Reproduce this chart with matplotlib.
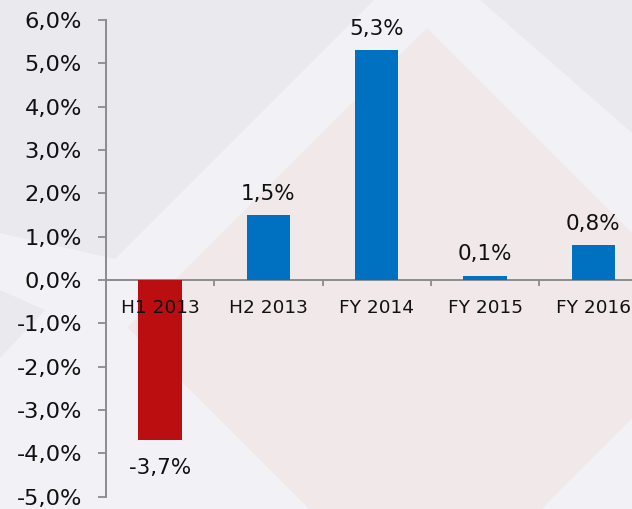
import matplotlib
matplotlib.use("Agg")
import matplotlib.pyplot as plt
from matplotlib.patches import Polygon

categories = ["H1 2013", "H2 2013", "FY 2014", "FY 2015", "FY 2016"]
values = [-3.7, 1.5, 5.3, 0.1, 0.8]
y_ticks = [-5, -4, -3, -2, -1, 0, 1, 2, 3, 4, 5, 6]
y_tick_labels = [f"{t:.1f}%".replace(".", ",") for t in y_ticks]

BLUE = "#0070C0"
RED = "#BA0E10"
AXIS = "#8C8C8C"
TEXT = "#111111"

W, H = 632, 509
fig = plt.figure(figsize=(W / 100, H / 100), dpi=100)
fig.patch.set_facecolor("#F2F2F6")


def px(pts):
    return [(x / W, 1 - y / H) for x, y in pts]


DARK = "#E9E9EE"
PINK = "#F1E8E9"
# background watermark shapes (decoration)
fig.patches.append(Polygon(px([(0, 0), (374, 0), (115, 259), (0, 233)]), closed=True,
                           transform=fig.transFigure, facecolor=DARK, edgecolor="none", zorder=-10))
fig.patches.append(Polygon(px([(0, 290), (45, 310), (0, 358)]), closed=True,
                           transform=fig.transFigure, facecolor=DARK, edgecolor="none", zorder=-10))
fig.patches.append(Polygon(px([(480, 0), (640, 0), (640, 140)]), closed=True,
                           transform=fig.transFigure, facecolor=DARK, edgecolor="none", zorder=-10))
fig.patches.append(Polygon(px([(427, 28), (127.5, 327.5), (425, 625), (725, 326)]), closed=True,
                           transform=fig.transFigure, facecolor=PINK, edgecolor="none", zorder=-9))

left = 106 / W
right = 647.5 / W
bottom = 1 - 496.7 / H
top = 1 - 20 / H
ax = fig.add_axes([left, bottom, right - left, top - bottom])
ax.set_facecolor("none")

x = list(range(len(categories)))
colors = [RED if v < 0 else BLUE for v in values]
ax.bar(x, values, width=0.4, color=colors, zorder=1)

ax.set_xlim(-0.5, len(categories) - 0.5)
ax.set_ylim(-5, 6)

ax.set_yticks(y_ticks)
ax.set_yticklabels(y_tick_labels)
ax.tick_params(axis="y", direction="out", length=5.8, width=1.3, color=AXIS,
               labelsize=16.2, labelcolor=TEXT, pad=11.5)

ax.set_xticks(x)
ax.set_xticklabels(categories)
ax.set_xticks([i + 0.5 for i in x], minor=True)
ax.tick_params(axis="x", which="major", length=0, labelsize=13.3, labelcolor=TEXT, pad=14)
ax.tick_params(axis="x", which="minor", direction="out", length=4.5, width=1.3, color=AXIS)
ax.xaxis.set_zorder(3)

for s in ["top", "right"]:
    ax.spines[s].set_visible(False)
ax.spines["left"].set_color(AXIS)
ax.spines["left"].set_linewidth(1.4)
ax.spines["bottom"].set_position(("data", 0))
ax.spines["bottom"].set_color(AXIS)
ax.spines["bottom"].set_linewidth(1.4)
ax.spines["bottom"].set_zorder(0.5)

for xi, v in zip(x, values):
    label = f"{v:.1f}%".replace(".", ",")
    if v >= 0:
        ax.annotate(label, (xi, v), xytext=(0, 11), textcoords="offset points",
                    ha="center", va="baseline", fontsize=15.5, color=TEXT)
    else:
        ax.annotate(label, (xi, v), xytext=(0, -13), textcoords="offset points",
                    ha="center", va="top", fontsize=15.5, color=TEXT)

fig.savefig("out.png", dpi=100, facecolor=fig.get_facecolor())
